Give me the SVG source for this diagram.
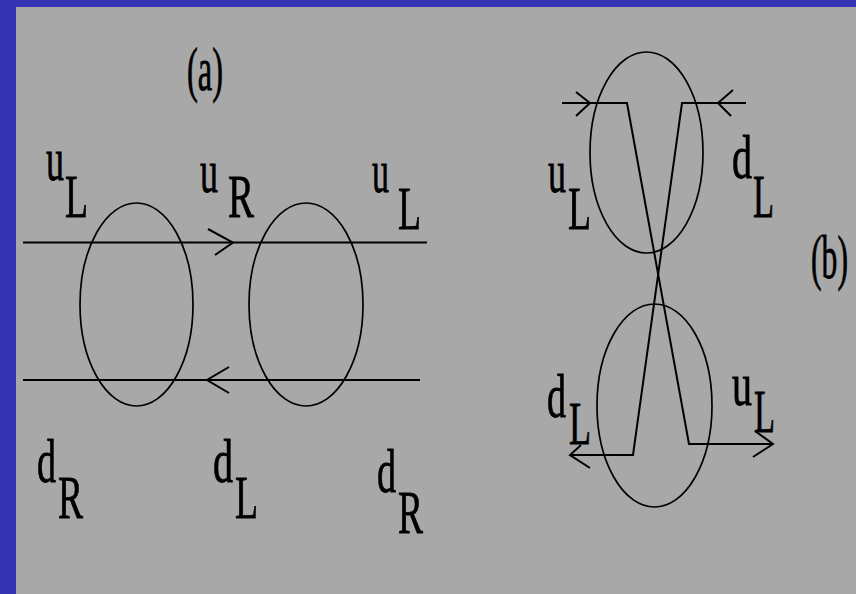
<svg xmlns="http://www.w3.org/2000/svg" width="856" height="594" viewBox="0 0 856 594">
<style>
.lbl{font-family:"Liberation Serif","Times New Roman",serif;font-size:62px;fill:#000;stroke:#000;stroke-width:0.8}
.ln{fill:none;stroke:#000;stroke-width:2}
.el{fill:none;stroke:#000;stroke-width:1.7}
.ah{fill:none;stroke:#000;stroke-width:2}
</style>
<rect x="0" y="0" width="856" height="594" fill="#3434b2"/>
<rect x="16" y="7" width="840" height="587" fill="#a8a8a8"/>

<g id="panel-a-title"><text class="lbl" x="187" y="90" textLength="36" lengthAdjust="spacingAndGlyphs">(a)</text></g>
<g id="panel-b-title"><text class="lbl" x="811" y="278" textLength="37" lengthAdjust="spacingAndGlyphs">(b)</text></g>

<g id="loop-a1"><ellipse class="el" cx="136.5" cy="304.5" rx="56.5" ry="101.5"/></g>
<g id="loop-a2"><ellipse class="el" cx="306" cy="304.5" rx="57" ry="101.5"/></g>
<g id="loop-b1"><ellipse class="el" cx="646.5" cy="152.5" rx="56.5" ry="100.5"/></g>
<g id="loop-b2"><ellipse class="el" cx="654.5" cy="405.5" rx="57.5" ry="101.5"/></g>

<g id="connectors">
  <line class="ln" x1="23" y1="242.5" x2="427" y2="242.5"/>
  <polyline class="ah" points="208,229 233,242.5 215,255"/>
  <line class="ln" x1="23" y1="380" x2="420" y2="380" stroke-width="3"/>
  <polyline class="ah" points="229,367 207,380 229,393"/>

  <polyline class="ln" points="562,103 627,103 689,444 773,444"/>
  <polyline class="ah" points="576,92 590,103 576,116"/>
  <polyline class="ah" points="755,431 773,444 753,457"/>
  <polyline class="ln" points="746,103 682,103 633,455 570,455"/>
  <polyline class="ah" points="733,90 718,103 731,116"/>
  <polyline class="ah" points="581,445 570,455 590,468"/>
</g>

<g id="label-uL-a-left"><text class="lbl" x="46" y="180" textLength="18" lengthAdjust="spacingAndGlyphs">u</text><text class="lbl" x="65" y="217" textLength="23" lengthAdjust="spacingAndGlyphs">L</text></g>
<g id="label-uR-a"><text class="lbl" x="200" y="192" textLength="18" lengthAdjust="spacingAndGlyphs">u</text><text class="lbl" x="228" y="217" textLength="26" lengthAdjust="spacingAndGlyphs">R</text></g>
<g id="label-uL-a-right"><text class="lbl" x="372" y="192" textLength="17" lengthAdjust="spacingAndGlyphs">u</text><text class="lbl" x="398" y="229" textLength="23" lengthAdjust="spacingAndGlyphs">L</text></g>
<g id="label-dR-a-left"><text class="lbl" x="37" y="482" textLength="19" lengthAdjust="spacingAndGlyphs">d</text><text class="lbl" x="58" y="518" textLength="25" lengthAdjust="spacingAndGlyphs">R</text></g>
<g id="label-dL-a"><text class="lbl" x="213" y="482" textLength="20" lengthAdjust="spacingAndGlyphs">d</text><text class="lbl" x="235" y="518" textLength="23" lengthAdjust="spacingAndGlyphs">L</text></g>
<g id="label-dR-a-right"><text class="lbl" x="377" y="492" textLength="19" lengthAdjust="spacingAndGlyphs">d</text><text class="lbl" x="398" y="533" textLength="25" lengthAdjust="spacingAndGlyphs">R</text></g>

<g id="label-uL-b-top"><text class="lbl" x="548" y="192" textLength="18" lengthAdjust="spacingAndGlyphs">u</text><text class="lbl" x="568" y="229" textLength="23" lengthAdjust="spacingAndGlyphs">L</text></g>
<g id="label-dL-b-top"><text class="lbl" x="732" y="178" textLength="20" lengthAdjust="spacingAndGlyphs">d</text><text class="lbl" x="753" y="217" textLength="21" lengthAdjust="spacingAndGlyphs">L</text></g>
<g id="label-dL-b-bottom"><text class="lbl" x="547" y="417" textLength="19" lengthAdjust="spacingAndGlyphs">d</text><text class="lbl" x="569" y="444" textLength="22" lengthAdjust="spacingAndGlyphs">L</text></g>
<g id="label-uL-b-bottom"><text class="lbl" x="732" y="405" textLength="20" lengthAdjust="spacingAndGlyphs">u</text><text class="lbl" x="754" y="432" textLength="21" lengthAdjust="spacingAndGlyphs">L</text></g>
</svg>
